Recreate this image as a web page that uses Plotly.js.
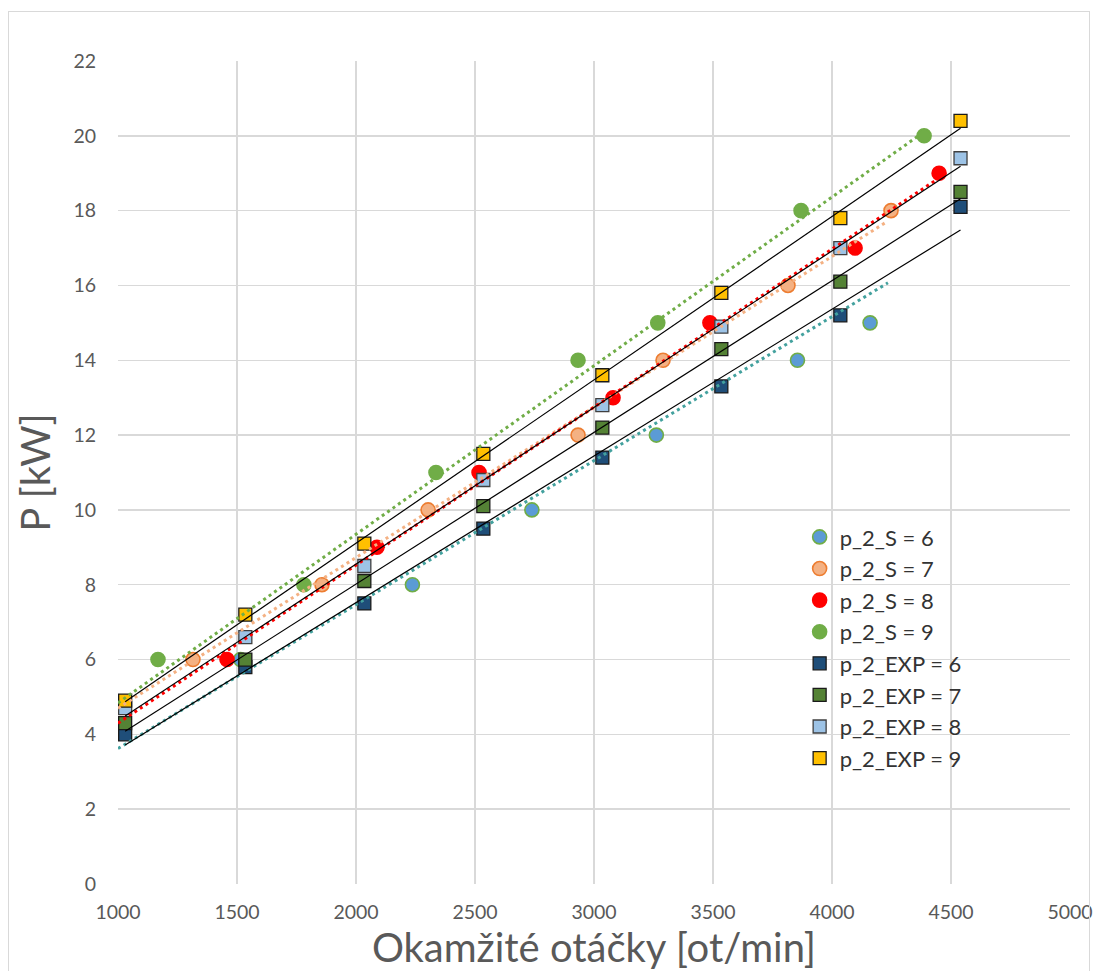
<!DOCTYPE html>
<html><head><meta charset="utf-8">
<script src="https://cdn.plot.ly/plotly-3.0.1.min.js"></script>
<style>
html,body{margin:0;padding:0;background:#fff;overflow:hidden;width:1098px;height:971px;}
#chart{position:absolute;left:0;top:0;width:1098px;height:971px;}
#frame{position:absolute;left:8px;top:11px;width:1082px;height:975px;border:1px solid #d9d9d9;box-sizing:border-box;pointer-events:none;}
</style></head>
<body>
<div id="chart"></div>
<div id="frame"></div>
<script>
// ---- data ----
const seriesNames = ["p_2_S = 6","p_2_S = 7","p_2_S = 8","p_2_S = 9","p_2_EXP = 6","p_2_EXP = 7","p_2_EXP = 8","p_2_EXP = 9"];

const s6X = [1515, 2237, 2739, 3262, 3855, 4160];
const s6Y = [6, 8, 10, 12, 14, 15];
const s7X = [1315, 1857, 2303, 2933, 3290, 3815, 4248];
const s7Y = [6, 8, 10, 12, 14, 16, 18];
const s8X = [1458, 2088, 2517, 3080, 3487, 4097, 4450];
const s8Y = [6, 9, 11, 13, 15, 17, 19];
const s9X = [1168, 1781, 2336, 2933, 3268, 3870, 4387];
const s9Y = [6, 8, 11, 14, 15, 18, 20];

const expX  = [1030, 1535, 2035, 2535, 3035, 3535, 4035, 4540];
const exp6Y = [4.0, 5.8, 7.5, 9.5, 11.4, 13.3, 15.2, 18.1];
const exp7Y = [4.3, 6.0, 8.1, 10.1, 12.2, 14.3, 16.1, 18.5];
const exp8Y = [4.7, 6.6, 8.5, 10.8, 12.8, 14.9, 17.0, 19.4];
const exp9Y = [4.9, 7.2, 9.1, 11.5, 13.6, 15.8, 17.8, 20.4];

// dotted trendlines of the S series (end points)
const trendS6X = [1000, 4235], trendS6Y = [3.62, 16.07];
const trendS7X = [1000, 4222], trendS7Y = [4.70, 17.67];
const trendS8X = [1000, 4433], trendS8Y = [4.30, 18.80];
const trendS9X = [1000, 4370], trendS9Y = [4.84, 20.03];

const xTicks = [1000, 1500, 2000, 2500, 3000, 3500, 4000, 4500, 5000];
const yTicks = [0, 2, 4, 6, 8, 10, 12, 14, 16, 18, 20, 22];

// ---- helpers ----
function linFit(xs, ys) {
  const n = xs.length;
  const mx = xs.reduce((a, b) => a + b, 0) / n;
  const my = ys.reduce((a, b) => a + b, 0) / n;
  let sxy = 0, sxx = 0;
  for (let i = 0; i < n; i++) { sxy += (xs[i] - mx) * (ys[i] - my); sxx += (xs[i] - mx) ** 2; }
  const b = sxy / sxx, a = my - b * mx;
  const x0 = Math.min(...xs), x1 = Math.max(...xs);
  return { x: [x0, x1], y: [a + b * x0, a + b * x1] };
}

const circle = (x, y, name, fill, line) => ({
  x, y, name, type: 'scatter', mode: 'markers',
  marker: { symbol: 'circle', size: 14, color: fill, line: { color: line, width: 1.6 } }
});
const square = (x, y, name, fill, line) => ({
  x, y, name, type: 'scatter', mode: 'markers',
  marker: { symbol: 'square', size: 13, color: fill, line: { color: line, width: 1.3 } }
});
const dotted = (x, y, color) => ({
  x, y, type: 'scatter', mode: 'lines', showlegend: false, hoverinfo: 'skip',
  line: { color, width: 3, dash: '3px,3.6px' }
});
const solid = (fit) => ({
  x: fit.x, y: fit.y, type: 'scatter', mode: 'lines', showlegend: false, hoverinfo: 'skip',
  line: { color: '#000000', width: 1.2 }
});

const traces = [
  circle(s6X, s6Y, seriesNames[0], '#5B9BD5', '#70AD47'),
  circle(s7X, s7Y, seriesNames[1], '#F4B183', '#ED7D31'),
  circle(s8X, s8Y, seriesNames[2], '#FF0000', '#FF0000'),
  circle(s9X, s9Y, seriesNames[3], '#70AD47', '#70AD47'),
  square(expX, exp6Y, seriesNames[4], '#1F4E79', '#1a1a1a'),
  square(expX, exp7Y, seriesNames[5], '#548235', '#1a1a1a'),
  square(expX, exp8Y, seriesNames[6], '#9DC3E6', '#404040'),
  square(expX, exp9Y, seriesNames[7], '#FFC000', '#1a1a1a'),
  dotted(trendS6X, trendS6Y, '#43A19E'),
  dotted(trendS7X, trendS7Y, '#F4B183'),
  dotted(trendS8X, trendS8Y, '#FF0000'),
  dotted(trendS9X, trendS9Y, '#70AD47'),
  solid(linFit(expX, exp6Y)),
  solid(linFit(expX, exp7Y)),
  solid(linFit(expX, exp8Y)),
  solid(linFit(expX, exp9Y))
];

const FONT = 'Lato, "Open Sans", sans-serif';
const layout = {
  width: 1098, height: 971,
  margin: { l: 118, r: 28, t: 61, b: 87 },
  paper_bgcolor: 'rgba(0,0,0,0)', plot_bgcolor: '#ffffff',
  font: { family: FONT, color: '#595959' },
  showlegend: true,
  legend: {
    x: 0.716, xanchor: 'left', y: 0.447, yanchor: 'top',
    font: { family: FONT, size: 22, color: '#333333' },
    bgcolor: 'rgba(0,0,0,0)', borderwidth: 0
  },
  xaxis: {
    range: [1000, 5000], tickvals: xTicks, ticktext: xTicks.map(String),
    showgrid: true, gridcolor: '#d9d9d9', gridwidth: 1.5, zeroline: false, showline: false,
    ticks: 'outside', ticklen: 11, tickcolor: 'rgba(0,0,0,0)',
    tickfont: { family: FONT, size: 19.5, color: '#595959' },
    title: { text: 'Okamžité otáčky [ot/min]', font: { family: FONT, size: 40, color: '#595959' }, standoff: 11 },
    automargin: false
  },
  yaxis: {
    range: [0, 22], tickvals: yTicks, ticktext: yTicks.map(String),
    showgrid: true, gridcolor: '#d9d9d9', gridwidth: 1.5, zeroline: false, showline: false,
    ticks: 'outside', ticklen: 17, tickcolor: 'rgba(0,0,0,0)',
    tickfont: { family: FONT, size: 19.5, color: '#595959' },
    title: { text: 'P [kW]', font: { family: FONT, size: 40, color: '#595959' }, standoff: 10 },
    automargin: false
  }
};

Plotly.newPlot('chart', traces, layout, { staticPlot: true, displayModeBar: false });
</script>
</body></html>
